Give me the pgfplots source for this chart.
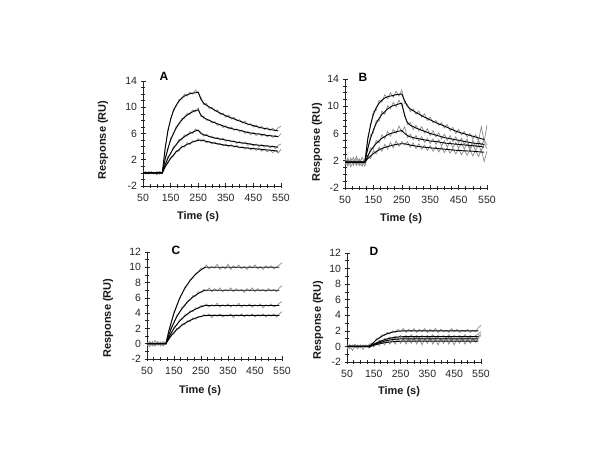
\documentclass[border=0pt]{standalone}
\usepackage{pgfplots}
\pgfplotsset{compat=1.18}
\usepackage{pgfplotstable}
\usepackage{fontspec}
\setmainfont{Liberation Sans}

% ---------- Panel A ----------
\pgfplotstableread{
t a b c d
50 0.1 -0.2 0.2 0.0
60 -0.2 0.1 -0.1 0.2
70 0.2 -0.1 0.0 -0.2
80 -0.1 0.2 0.1 0.1
90 0.1 0.0 -0.2 -0.1
100 -0.3 0.1 0.2 0.0
110 0.2 -0.2 -0.1 0.2
120 0.0 0.1 0.1 -0.1
130 3.4 2.3 1.0 1.1
140 6.6 3.4 2.5 1.4
150 8.0 5.3 2.8 2.4
160 9.7 5.8 4.0 2.5
170 10.1 7.1 4.2 3.4
180 11.2 7.3 5.1 3.3
190 11.2 8.3 5.0 4.1
200 12.0 8.3 5.8 3.9
210 11.7 9.1 5.6 4.6
220 12.3 8.9 6.3 4.3
230 12.0 9.6 6.0 4.9
240 12.6 9.3 6.7 4.7
250 12.2 9.9 6.4 5.2
260 11.5 8.6 6.2 4.8
270 10.4 8.6 5.6 5.1
280 10.6 8.0 5.9 4.6
290 9.8 8.1 5.5 4.8
300 10.0 7.6 5.6 4.4
310 9.4 7.8 5.2 4.7
320 9.6 7.2 5.4 4.3
330 8.9 7.4 5.0 4.5
340 9.1 6.9 5.3 4.1
350 8.5 7.2 4.8 4.4
360 8.8 6.7 5.0 4.0
370 8.2 7.0 4.7 4.3
380 8.5 6.5 4.9 3.9
390 7.9 6.7 4.5 4.2
400 8.1 6.3 4.8 3.8
410 7.6 6.5 4.4 4.0
420 7.9 6.0 4.7 3.6
430 7.3 6.3 4.2 3.9
440 7.5 5.8 4.5 3.5
450 7.0 6.2 4.1 3.8
460 7.3 5.7 4.4 3.4
470 6.8 6.0 4.0 3.8
480 7.1 5.6 4.3 3.3
490 6.6 5.9 3.9 3.6
500 6.9 5.5 4.2 3.2
510 6.5 5.8 3.8 3.5
520 6.8 5.4 4.1 3.1
530 6.4 5.7 3.7 3.4
540 6.9 5.5 4.2 3.0
550 7.1 6.0 4.4 3.6
}\dataA
\pgfplotstableread{
t a b c d
50 0 0 0 0
120 0 0 0 0
130 3.7 2.0 1.2 0.86
140 6.3 3.7 2.2 1.6
150 8.2 5.0 3.0 2.2
160 9.4 6.0 3.7 2.7
170 10.3 6.8 4.3 3.2
180 10.9 7.5 4.8 3.5
190 11.4 8.0 5.2 3.9
200 11.7 8.5 5.5 4.1
210 11.9 8.8 5.8 4.35
220 12.05 9.1 6.0 4.5
230 12.15 9.3 6.2 4.7
240 12.2 9.5 6.4 4.85
250 12.3 9.6 6.5 4.95
260 11.2 8.8 6.0 5.0
270 10.6 8.4 5.8 4.9
280 10.3 8.2 5.7 4.8
300 9.8 7.8 5.4 4.6
325 9.2 7.4 5.2 4.4
350 8.7 7.0 5.0 4.2
375 8.3 6.7 4.8 4.1
400 7.9 6.5 4.6 3.9
425 7.5 6.2 4.5 3.8
450 7.2 6.0 4.3 3.7
475 6.9 5.9 4.2 3.6
500 6.7 5.7 4.1 3.5
525 6.5 5.6 4.0 3.4
540 6.4 5.5 3.9 3.3
}\fitA

% ---------- Panel B ----------
\pgfplotstableread{
t a b c d
50 1.9 1.4 2.3 1.6
60 1.2 2.2 1.5 2.4
70 2.4 1.6 2.1 1.1
80 1.5 2.5 1.3 2.0
90 2.2 1.3 2.6 1.5
100 1.3 2.1 1.7 2.3
110 2.5 1.5 1.2 1.8
120 1.6 2.3 2.0 1.2
130 5.5 3.5 2.4 2.8
140 7.0 5.8 3.9 2.3
150 9.3 6.1 3.7 3.5
160 9.4 7.9 5.0 3.0
170 10.9 7.8 4.6 4.0
180 10.6 9.3 5.8 3.4
190 11.7 8.8 5.2 4.4
200 11.1 10.1 6.3 3.7
210 12.0 9.6 5.6 4.7
220 11.3 10.6 6.6 3.9
230 12.2 9.9 6.0 4.9
240 11.5 10.9 7.1 4.1
250 12.4 10.1 6.2 4.8
260 10.4 8.9 7.0 4.3
270 10.3 7.3 5.4 4.8
280 9.2 7.6 5.9 4.0
290 9.6 6.6 5.1 4.6
300 8.8 7.2 5.7 3.8
310 9.3 6.4 4.9 4.5
320 8.4 7.0 5.5 3.7
330 8.9 6.1 4.7 4.3
340 7.9 6.7 5.3 3.5
350 8.4 5.7 4.5 4.2
360 7.6 6.4 5.2 3.4
370 7.9 5.5 4.4 4.1
380 7.2 6.1 5.1 3.3
390 7.6 5.2 4.2 4.0
400 6.8 5.9 4.9 3.2
410 7.3 5.0 4.0 3.9
420 6.4 5.7 4.8 3.1
430 6.9 4.8 3.9 3.8
440 6.0 5.5 4.7 3.0
450 6.6 4.6 3.8 3.7
460 5.8 5.3 4.6 2.9
470 6.3 4.4 3.7 3.6
480 5.5 5.2 4.5 2.8
490 6.0 3.7 3.6 3.6
500 5.2 5.0 4.4 2.7
510 5.8 4.1 3.5 3.5
520 4.9 5.0 4.4 2.6
530 7.0 4.2 3.4 3.6
540 4.8 5.1 4.5 1.9
550 7.2 4.3 3.8 3.4
}\dataB
\pgfplotstableread{
t a b c d
50 1.8 1.8 1.8 1.8
120 1.8 1.8 1.8 1.8
130 5.1 3.8 2.7 2.3
140 7.3 5.3 3.45 2.7
150 8.8 6.55 4.05 3.05
160 9.8 7.5 4.55 3.35
170 10.45 8.2 4.95 3.6
180 10.9 8.8 5.3 3.8
190 11.2 9.2 5.55 3.95
200 11.4 9.6 5.8 4.1
210 11.5 9.9 6.0 4.2
220 11.6 10.1 6.1 4.3
230 11.7 10.2 6.25 4.4
240 11.75 10.35 6.35 4.45
250 11.8 10.45 6.45 4.5
260 10.8 8.6 6.0 4.5
270 10.0 7.6 5.7 4.4
280 9.6 7.2 5.5 4.3
300 9.1 6.8 5.3 4.15
325 8.5 6.4 5.1 4.0
350 8.0 6.0 4.9 3.9
375 7.5 5.7 4.8 3.8
400 7.1 5.4 4.6 3.7
425 6.6 5.2 4.5 3.6
450 6.2 5.0 4.4 3.5
475 5.9 4.8 4.3 3.45
500 5.6 4.6 4.2 3.4
525 5.3 4.5 4.1 3.3
540 5.1 4.4 4.0 3.25
}\fitB

% ---------- Panel C ----------
\pgfplotstableread{
t a b c d
50 0.1 -0.3 0.2 -0.1
60 -0.4 0.2 -0.1 0.3
70 0.3 -0.2 0.1 -0.3
80 -0.2 0.4 -0.3 0.1
90 0.2 -0.1 0.3 -0.2
100 -0.3 0.2 -0.2 0.2
110 0.3 -0.3 0.1 -0.1
120 0.0 0.2 -0.1 0.1
130 1.7 1.0 0.9 0.5
140 2.7 2.2 1.3 1.2
150 4.2 2.7 2.2 1.3
160 4.8 3.7 2.4 2.0
170 6.0 4.0 3.1 2.0
180 6.5 4.8 3.2 2.6
190 7.4 4.9 3.8 2.5
200 7.7 5.6 3.8 3.0
210 8.4 5.7 4.3 2.9
220 8.6 6.3 4.2 3.4
230 9.2 6.2 4.7 3.2
240 9.4 6.8 4.6 3.6
250 9.9 6.7 5.0 3.5
260 9.8 7.1 4.9 3.8
270 10.3 6.9 5.2 3.6
280 9.8 7.3 4.8 3.9
290 10.1 6.8 5.1 3.4
300 9.9 7.2 4.9 3.8
310 10.4 6.9 5.3 3.6
320 9.7 7.3 4.8 3.9
330 10.1 6.8 5.1 3.5
340 9.8 7.1 4.9 3.7
350 10.4 6.9 5.2 3.6
360 9.7 7.3 4.8 3.9
370 10.2 6.8 5.1 3.4
380 9.9 7.2 4.9 3.8
390 10.3 6.9 5.3 3.6
400 9.8 7.1 4.8 3.9
410 10.1 6.7 5.1 3.5
420 9.7 7.2 4.9 3.8
430 10.2 6.9 5.2 3.6
440 9.9 7.3 4.8 3.9
450 10.3 6.8 5.1 3.5
460 9.8 7.2 4.9 3.8
470 10.1 6.9 5.2 3.6
480 9.7 7.1 4.7 3.9
490 10.2 6.8 5.1 3.5
500 9.9 7.2 4.9 3.8
510 10.2 6.9 5.2 3.6
520 9.8 7.1 4.8 3.9
530 10.0 6.8 5.0 3.5
540 10.3 7.3 5.3 3.9
550 10.6 7.6 5.5 4.2
}\dataC
\pgfplotstableread{
t a b c d
50 0 0 0 0
120 0 0 0 0
130 1.52 1.06 0.76 0.56
140 2.85 2.0 1.43 1.05
150 3.99 2.8 2.0 1.48
160 4.98 3.5 2.49 1.84
170 5.84 4.1 2.92 2.16
180 6.59 4.6 3.3 2.44
190 7.23 5.06 3.6 2.67
200 7.79 5.45 3.9 2.88
210 8.28 5.8 4.14 3.06
220 8.70 6.1 4.35 3.22
230 9.06 6.34 4.53 3.35
240 9.38 6.57 4.69 3.47
250 9.65 6.76 4.83 3.57
260 9.89 6.92 4.95 3.66
265 10.0 7.0 5.0 3.7
540 10.0 7.0 5.0 3.7
}\fitC

% ---------- Panel D ----------
\pgfplotstableread{
t a b c d
50 0.1 -0.2 0.2 -0.4
60 -0.3 0.2 -0.1 0.2
70 0.2 -0.1 0.1 -0.5
80 -0.1 0.3 -0.2 0.1
90 0.2 -0.2 0.1 -0.3
100 -0.2 0.1 -0.1 0.2
110 0.1 -0.1 0.2 -0.4
120 -0.1 0.2 -0.1 0.1
130 0.2 -0.1 0.1 -0.2
140 0.4 0.1 0.0 0.3
150 0.5 0.4 0.3 -0.1
160 1.0 0.3 0.2 0.5
170 1.0 0.8 0.6 0.1
180 1.5 0.6 0.4 0.7
190 1.4 1.0 0.8 0.2
200 1.8 0.9 0.6 0.8
210 1.6 1.2 1.0 0.3
220 2.0 1.0 0.8 0.9
230 1.8 1.3 1.1 0.3
240 2.2 1.1 0.8 1.0
250 1.9 1.4 1.1 0.4
260 2.3 1.1 0.9 1.0
270 1.8 1.4 1.2 0.3
280 2.2 1.1 0.8 1.0
290 1.9 1.5 1.1 0.4
300 2.3 1.1 0.8 1.1
310 1.8 1.4 1.2 0.3
320 2.2 1.1 0.8 1.0
330 1.9 1.4 1.1 0.2
340 2.3 1.2 0.9 1.0
350 1.8 1.4 1.2 0.4
360 2.2 1.1 0.8 1.1
370 1.9 1.5 1.1 0.3
380 2.3 1.1 0.9 0.9
390 1.8 1.4 1.2 0.2
400 2.2 1.2 0.8 1.0
410 1.9 1.4 1.1 0.4
420 2.1 1.1 0.9 1.1
430 1.8 1.5 1.2 0.3
440 2.3 1.1 0.8 0.9
450 1.9 1.4 1.1 0.2
460 2.2 1.2 0.9 1.0
470 1.8 1.4 1.2 0.4
480 2.1 1.1 0.8 1.1
490 1.9 1.5 1.1 0.3
500 2.2 1.1 0.9 0.9
510 1.8 1.4 1.2 0.4
520 2.1 1.2 0.8 1.0
530 1.9 1.4 1.1 0.5
540 2.4 1.6 1.3 1.1
550 2.7 1.9 1.6 1.4
}\dataD
\pgfplotstableread{
t a b c d
50 0 0 0 0
135 0 0 0 0
140 0.2 0.1 0.08 0.05
150 0.55 0.3 0.22 0.15
160 0.85 0.45 0.35 0.25
170 1.1 0.6 0.47 0.33
180 1.3 0.75 0.58 0.41
190 1.5 0.87 0.68 0.47
200 1.62 0.97 0.76 0.52
210 1.74 1.05 0.82 0.57
220 1.83 1.12 0.87 0.6
230 1.9 1.17 0.91 0.63
240 1.95 1.21 0.94 0.65
250 1.98 1.24 0.96 0.67
260 2.0 1.25 0.97 0.68
540 2.0 1.25 0.97 0.68
}\fitD

\definecolor{datgray}{RGB}{140,140,140}
\pgfplotsset{
  spr/.style={
    scale only axis, anchor=south west,
    xmin=50, xmax=550,
    axis lines*=left,
    axis line style={line width=0.8pt, black!85},
    xtick={50,150,...,550},
    minor x tick num=3,
    tick align=center,
    major tick length=5pt, minor tick length=4pt,
    every tick/.style={black!85, line width=0.6pt},
    every minor tick/.style={black!85, line width=0.6pt},
    tick label style={font=\fontsize{10.5}{12}\selectfont, text=black!85},
    xticklabel style={yshift=-2.5pt},
    /pgf/number format/assume math mode=true,
    clip=false,
  },
  ya/.style={ymin=-2, ymax=14, ytick={-2,2,...,14}, minor y tick num=3},
  yc/.style={ymin=-2, ymax=12, ytick={-2,0,...,12}, minor y tick num=1},
  dat/.style={color=datgray, line width=0.7pt, no marks, sharp plot},
  fit/.style={black, line width=0.9pt, no marks, sharp plot},
}
\tikzset{
  ttl/.style={font=\fontsize{11}{13}\selectfont\bfseries, text=black!90},
  pl/.style={font=\fontsize{12}{14}\selectfont\bfseries, text=black},
}

\begin{document}
\begin{tikzpicture}
\path[use as bounding box, fill=white] (0pt,0pt) rectangle (600pt,450pt);

% Panel A
\begin{axis}[spr, ya, at={(143pt,264pt)}, width=138pt, height=105pt]
\addplot[dat] table[x=t,y=a]{\dataA};
\addplot[dat] table[x=t,y=b]{\dataA};
\addplot[dat] table[x=t,y=c]{\dataA};
\addplot[dat] table[x=t,y=d]{\dataA};
\addplot[fit] table[x=t,y=a]{\fitA};
\addplot[fit] table[x=t,y=b]{\fitA};
\addplot[fit] table[x=t,y=c]{\fitA};
\addplot[fit] table[x=t,y=d]{\fitA};
\end{axis}

% Panel B
\begin{axis}[spr, ya, at={(345pt,262pt)}, width=142pt, height=109pt]
\addplot[dat] table[x=t,y=a]{\dataB};
\addplot[dat] table[x=t,y=b]{\dataB};
\addplot[dat] table[x=t,y=c]{\dataB};
\addplot[dat] table[x=t,y=d]{\dataB};
\addplot[fit] table[x=t,y=a]{\fitB};
\addplot[fit] table[x=t,y=b]{\fitB};
\addplot[fit] table[x=t,y=c]{\fitB};
\addplot[fit] table[x=t,y=d]{\fitB};
\end{axis}

% Panel C
\begin{axis}[spr, yc, at={(147pt,91pt)}, width=135pt, height=107pt]
\addplot[dat] table[x=t,y=a]{\dataC};
\addplot[dat] table[x=t,y=b]{\dataC};
\addplot[dat] table[x=t,y=c]{\dataC};
\addplot[dat] table[x=t,y=d]{\dataC};
\addplot[fit] table[x=t,y=a]{\fitC};
\addplot[fit] table[x=t,y=b]{\fitC};
\addplot[fit] table[x=t,y=c]{\fitC};
\addplot[fit] table[x=t,y=d]{\fitC};
\end{axis}

% Panel D
\begin{axis}[spr, yc, at={(347pt,88pt)}, width=134pt, height=109pt]
\addplot[dat] table[x=t,y=a]{\dataD};
\addplot[dat] table[x=t,y=b]{\dataD};
\addplot[dat] table[x=t,y=c]{\dataD};
\addplot[dat] table[x=t,y=d]{\dataD};
\addplot[fit] table[x=t,y=a]{\fitD};
\addplot[fit] table[x=t,y=b]{\fitD};
\addplot[fit] table[x=t,y=c]{\fitD};
\addplot[fit] table[x=t,y=d]{\fitD};
\addplot[only marks, mark=*, mark size=1.2pt, black] coordinates {(135,0)};
\end{axis}

% titles and panel letters
\node[ttl] at (198pt,233pt) {Time (s)};
\node[ttl] at (401pt,231pt) {Time (s)};
\node[ttl] at (200pt,59pt) {Time (s)};
\node[ttl] at (399pt,58pt) {Time (s)};
\node[ttl, rotate=90] at (103pt,310pt) {Response (RU)};
\node[ttl, rotate=90] at (317pt,308pt) {Response (RU)};
\node[ttl, rotate=90] at (108pt,132pt) {Response (RU)};
\node[ttl, rotate=90] at (318pt,130pt) {Response (RU)};
\node[pl] at (164pt,374pt) {A};
\node[pl] at (363pt,373pt) {B};
\node[pl] at (176pt,200pt) {C};
\node[pl] at (374pt,199pt) {D};
\end{tikzpicture}
\end{document}
